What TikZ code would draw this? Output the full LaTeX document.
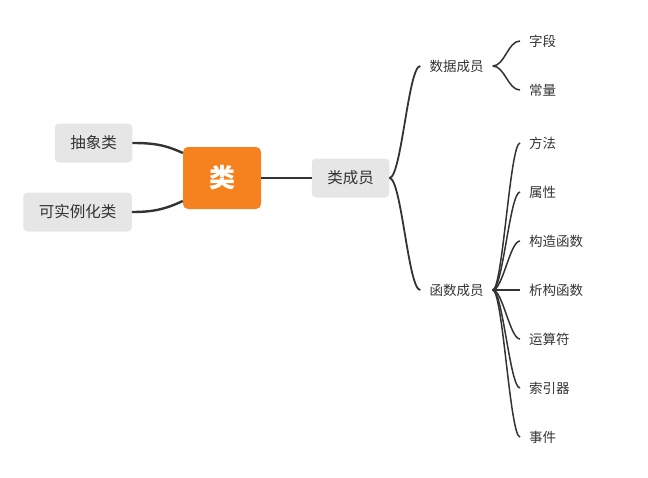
\documentclass[tikz,border=0pt]{standalone}
\usepackage{fontspec}
\newfontfamily\cjk{Noto Sans CJK SC}
\usepackage{xcolor}
\usepackage{tikz}
\definecolor{xorange}{HTML}{F5821F}
\definecolor{xgray}{HTML}{E6E6E6}
\definecolor{xline}{HTML}{333333}

\begin{document}
\begin{tikzpicture}[x=1pt,y=1pt,
  topic/.style={fill=xgray,rounded corners=4pt,minimum height=39pt,inner xsep=15.5pt,text=xline,font=\cjk\fontsize{15.5}{18}\selectfont},
  sub/.style={inner xsep=9pt,inner ysep=3pt,text=xline,font=\cjk\fontsize{13.5}{16}\selectfont},
  leaf/.style={sub,anchor=west},
  link/.style={xline,line width=2.4pt},
  branch/.style={xline,line width=1.8pt},
  twig/.style={xline,line width=1.5pt}]
\useasboundingbox (0,0) rectangle (648,-477);
% central topic and its neighbours
\node[fill=xorange,rounded corners=5pt,minimum width=78pt,minimum height=62pt,text=white,font=\cjk\bfseries\fontsize{26}{30}\selectfont] (cls) at (222,-178) {类};
\node[topic] (abs) at (93.5,-143) {抽象类};
\node[topic] (inst) at (77.5,-212) {可实例化类};
\node[topic] (mem) at (350.5,-178) {类成员};
\node[sub] (data) at (456.5,-66) {数据成员};
\node[sub] (func) at (456.5,-290) {函数成员};
% leaves
\node[leaf] (field) at (520,-41) {字段};
\node[leaf] (const) at (520,-90) {常量};
\node[leaf] (meth) at (520,-143) {方法};
\node[leaf] (prop) at (520,-192) {属性};
\node[leaf] (ctor) at (520,-241) {构造函数};
\node[leaf] (dtor) at (520,-290) {析构函数};
\node[leaf] (oper) at (520,-339) {运算符};
\node[leaf] (idx) at (520,-388) {索引器};
\node[leaf] (evt) at (520,-437) {事件};
% connectors
\draw[link] (abs.east) to[out=0,in=155] ([yshift=25pt]cls.west);
\draw[link] (inst.east) to[out=0,in=205] ([yshift=-23pt]cls.west);
\draw[link] (cls.east) -- (mem.west);
\draw[branch] (mem.east) .. controls +(12,0) and +(-12,0) .. (data.west);
\draw[branch] (mem.east) .. controls +(12,0) and +(-12,0) .. (func.west);
\draw[twig] (data.east) .. controls +(12,0) and +(-12,0) .. (field.west);
\draw[twig] (data.east) .. controls +(12,0) and +(-12,0) .. (const.west);
\foreach \n in {meth,prop,ctor,dtor,oper,idx,evt}
  \draw[twig] (func.east) .. controls +(10,0) and +(-10,0) .. (\n.west);
\end{tikzpicture}
\end{document}
